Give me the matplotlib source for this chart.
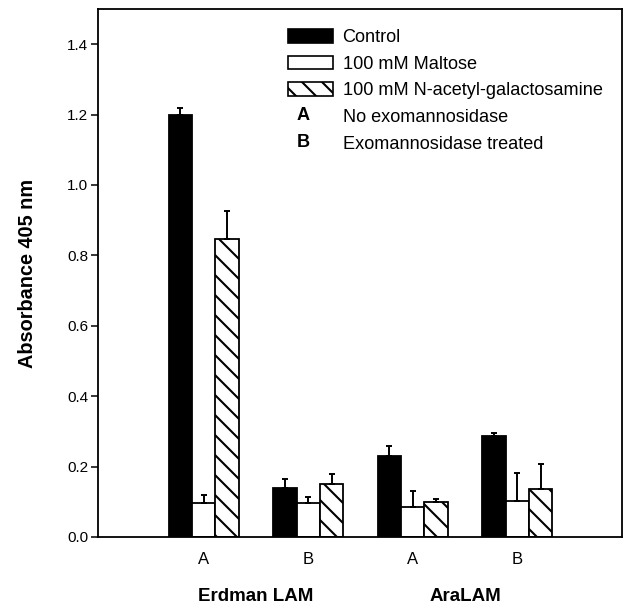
import matplotlib
matplotlib.use("Agg")
import matplotlib.pyplot as plt
import numpy as np
from matplotlib.patches import Patch
from matplotlib.text import Text

DPI = 120
K = 100 / DPI  # point-size scale so sizes match a 100-dpi layout

plt.rcParams['font.family'] = ['Liberation Sans', 'DejaVu Sans']
plt.rcParams['hatch.linewidth'] = 1.5 * K

# ---- data ----
conditions = ["A", "B", "A", "B"]
groups = ["Erdman LAM", "AraLAM"]
series = ["Control", "100 mM Maltose", "100 mM N-acetyl-galactosamine"]
control = [1.20, 0.138, 0.229, 0.288]
control_err = [0.02, 0.028, 0.029, 0.007]
maltose = [0.098, 0.097, 0.084, 0.103]
maltose_err = [0.02, 0.017, 0.046, 0.08]
nag = [0.846, 0.151, 0.099, 0.137]
nag_err = [0.08, 0.028, 0.01, 0.071]
key_letters = ["A", "B"]
key_texts = ["No exomannosidase", "Exomannosidase treated"]

W, H = 624, 606
fig = plt.figure(figsize=(W / DPI, H / DPI), dpi=DPI)
ax = fig.add_axes([98/W, 1-537/H, (622-98)/W, (537-9)/H])

x = np.arange(len(conditions))
w = 0.223
styles = [
    dict(color="black", edgecolor="black"),
    dict(color="white", edgecolor="black"),
    dict(color="white", edgecolor="black", hatch="\\\\"),
]
vals = [control, maltose, nag]
errs = [control_err, maltose_err, nag_err]
for i, (v, e, st) in enumerate(zip(vals, errs, styles)):
    pos = x + (i - 1) * w
    ax.bar(pos, v, width=w, linewidth=1.3 * K, zorder=2, **st)
    ax.errorbar(pos, v, yerr=[np.zeros(len(e)), e], fmt="none", ecolor="black",
                elinewidth=1.4 * K, capsize=2.2 * K, capthick=1.4 * K, zorder=3)

ax.set_xlim(-1.01, 4.0)
ax.set_ylim(0, 1.5)
ax.set_yticks(np.arange(0, 1.41, 0.2))
ax.set_yticklabels([f"{t:.1f}" for t in np.arange(0, 1.41, 0.2)], fontsize=11 * K)
ax.set_xticks(x)
ax.set_xticklabels(conditions, fontsize=12 * K)
ax.tick_params(axis="x", length=0, pad=11 * K)
ax.tick_params(axis="y", length=5 * K, width=1.1 * K, pad=2 * K, direction="out")
for s in ax.spines.values():
    s.set_linewidth(1.3 * K)

ax.set_ylabel("Absorbance 405 nm", fontsize=14.3 * K, fontweight="bold",
              labelpad=22 * K)

# group labels
for gi, g in enumerate(groups):
    xm = (x[2*gi] + x[2*gi+1]) / 2
    ax.text(xm, -0.112, g, transform=ax.get_xaxis_transform(), ha="center",
            va="center", fontsize=13.5 * K, fontweight="bold")


class LetterHandle:
    def __init__(self, letter):
        self.letter = letter


class HandlerLetter:
    def legend_artist(self, legend, orig_handle, fontsize, handlebox):
        x0, y0 = handlebox.xdescent, handlebox.ydescent
        wd, ht = handlebox.width, handlebox.height
        t = Text(x=-x0 + wd * 0.33, y=-y0 + ht / 2, text=orig_handle.letter,
                 ha="center", va="center", fontsize=fontsize, fontweight="bold")
        handlebox.add_artist(t)
        return t


handles = [Patch(facecolor="black", edgecolor="black", linewidth=1.2 * K),
           Patch(facecolor="white", edgecolor="black", linewidth=1.2 * K),
           Patch(facecolor="white", edgecolor="black", linewidth=1.2 * K, hatch="\\\\")]
handles += [LetterHandle(l) for l in key_letters]
labels = series + key_texts
leg = ax.legend(handles, labels, loc="upper left",
                bbox_to_anchor=(288/W, 1-29/H), bbox_transform=fig.transFigure,
                frameon=False, fontsize=13.1 * K, handlelength=2.5, handleheight=0.78,
                handletextpad=0.5, labelspacing=0.52, borderpad=0, borderaxespad=0,
                handler_map={LetterHandle: HandlerLetter()})

fig.savefig("out.png", dpi=DPI)
